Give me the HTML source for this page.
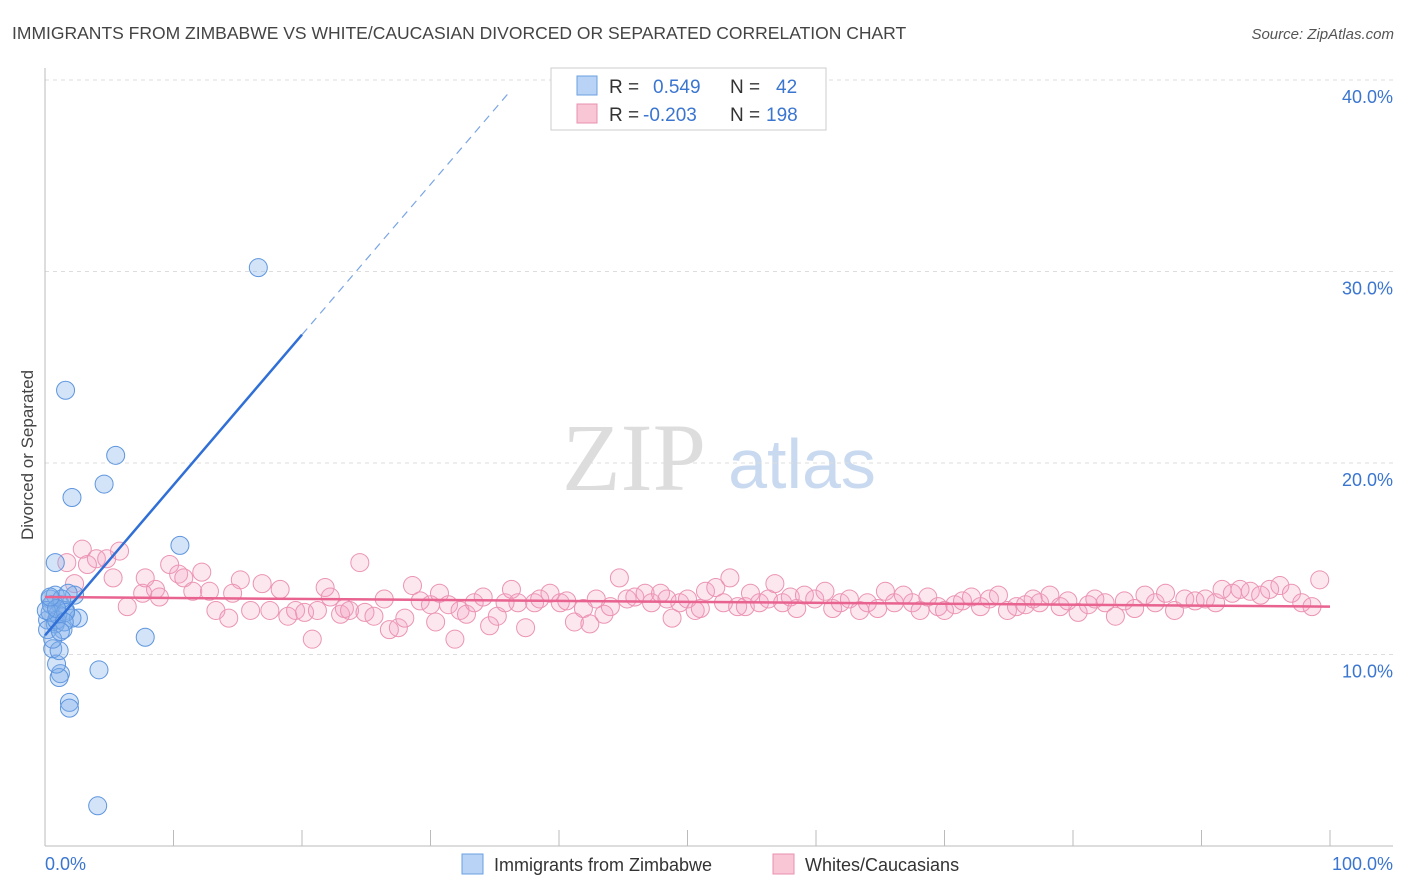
<!DOCTYPE html>
<html><head><meta charset="utf-8">
<style>
body{margin:0;background:#fff;font-family:"Liberation Sans",sans-serif;}
svg{display:block}
</style></head>
<body>
<svg id="chart" width="1406" height="892" viewBox="0 0 1406 892" xmlns="http://www.w3.org/2000/svg">
<text x="12" y="39" font-size="17.5" fill="#444">IMMIGRANTS FROM ZIMBABWE VS WHITE/CAUCASIAN DIVORCED OR SEPARATED CORRELATION CHART</text>
<text x="1394" y="39" font-size="15" fill="#555" font-style="italic" text-anchor="end">Source: ZipAtlas.com</text>
<g>
<text x="634" y="490" font-family="Liberation Serif,serif" font-size="96" fill="#ddd" text-anchor="middle">ZIP</text>
<text x="802" y="488" font-size="70" fill="#c9daf0" text-anchor="middle">atlas</text>
</g>
<g id="grid"></g>
<g id="axes"></g>
<g id="marks"></g>
<text transform="translate(33,455) rotate(-90)" font-size="17" fill="#444" text-anchor="middle">Divorced or Separated</text>
<text x="45" y="870" font-size="18" fill="#3a75d0">0.0%</text>
<text x="1393" y="870" font-size="18" fill="#3a75d0" text-anchor="end">100.0%</text>
<g>
<rect x="551" y="68" width="275" height="62" fill="#fff" stroke="#ccc"/>
<rect x="577" y="76" width="20" height="19" fill="#b8d3f5" stroke="#6a9fe0"/>
<rect x="577" y="104" width="20" height="19" fill="#f9c6d6" stroke="#e890b0"/>
<text x="609" y="93" font-size="19" fill="#333">R =</text>
<text x="653" y="93" font-size="19" fill="#3a75d0">0.549</text>
<text x="730" y="93" font-size="19" fill="#333">N =</text>
<text x="776" y="93" font-size="19" fill="#3a75d0">42</text>
<text x="609" y="121" font-size="19" fill="#333">R =</text>
<text x="643" y="121" font-size="19" fill="#3a75d0">-0.203</text>
<text x="730" y="121" font-size="19" fill="#333">N =</text>
<text x="766" y="121" font-size="19" fill="#3a75d0">198</text>
</g>
<g>
<rect x="462" y="854" width="21" height="20" fill="#b8d3f5" stroke="#6a9fe0"/>
<text x="494" y="871" font-size="18" fill="#333">Immigrants from Zimbabwe</text>
<rect x="773" y="854" width="21" height="20" fill="#f9c6d6" stroke="#e890b0"/>
<text x="805" y="871" font-size="18" fill="#333">Whites/Caucasians</text>
</g>
</svg>
<script>
const yTicks=[10,20,30,40];
const yTickLabels=["10.0%","20.0%","30.0%","40.0%"];
const xTicks=[0,10,20,30,40,50,60,70,80,90,100];
const blueX=[16.6,1.6,5.5,2.1,4.6,10.5,0.8,7.8,4.2,4.1,1.9,1.9,1.2,1.1,0.9,0.6,1.1,0.2,0.4,0.8,1.2,1.6,2.3,1.8,2.6,2.1,1.4,0.8,0.4,1.0,0.5,1.3,0.2,0.6,0.9,1.6,0.1,0.9,1.5,0.4,1.2];
const blueY=[30.2,23.8,20.4,18.2,18.9,15.7,14.8,10.9,9.2,2.1,7.5,7.2,9.0,8.8,9.5,10.3,10.2,11.8,12.9,13.1,12.6,12.3,13.1,13.2,11.9,11.9,11.3,11.6,12.2,12.1,12.6,12.9,11.3,10.8,11.8,12.2,12.3,12.4,11.7,13.0,11.2];
const pinkPoints=[[1.7,14.8],[2.9,15.5],[4.0,15.0],[4.8,15.0],[5.8,15.4],[3.3,14.7],[2.3,13.7],[5.3,14.0],[6.4,12.5],[7.6,13.2],[7.8,14.0],[8.6,13.4],[8.9,13.0],[9.7,14.7],[10.4,14.2],[10.8,14.0],[11.5,13.3],[12.2,14.3],[12.8,13.3],[13.3,12.3],[14.3,11.9],[15.2,13.9],[14.6,13.2],[16.0,12.3],[16.9,13.7],[17.5,12.3],[18.3,13.4],[18.9,12.0],[19.5,12.3],[20.2,12.2],[20.8,10.8],[21.2,12.3],[21.8,13.5],[22.2,13.0],[23.0,12.1],[23.3,12.4],[23.7,12.3],[24.5,14.8],[24.9,12.2],[25.6,12.0],[26.4,12.9],[26.8,11.3],[27.5,11.4],[28.0,11.9],[28.6,13.6],[29.2,12.8],[30.0,12.6],[30.4,11.7],[30.7,13.2],[31.4,12.6],[31.9,10.8],[32.3,12.3],[32.8,12.1],[33.4,12.7],[34.1,13.0],[34.6,11.5],[35.2,12.0],[35.8,12.7],[36.3,13.4],[36.8,12.7],[37.4,11.4],[38.1,12.7],[38.5,12.9],[39.3,13.2],[40.1,12.7],[40.6,12.8],[41.2,11.7],[41.9,12.4],[42.4,11.6],[42.9,12.9],[43.5,12.1],[44.0,12.5],[44.7,14.0],[45.3,12.9],[45.9,13.0],[46.7,13.2],[47.2,12.7],[47.9,13.2],[48.4,12.9],[48.8,11.9],[49.4,12.7],[50.0,12.9],[50.6,12.3],[51.0,12.4],[51.4,13.3],[52.2,13.5],[52.8,12.7],[53.3,14.0],[53.9,12.5],[54.5,12.5],[54.9,13.2],[55.6,12.7],[56.3,12.9],[56.8,13.7],[57.4,12.7],[58.0,13.0],[58.5,12.4],[59.1,13.1],[59.9,12.9],[60.7,13.3],[61.3,12.4],[61.9,12.7],[62.6,12.9],[63.4,12.3],[64.0,12.7],[64.8,12.4],[65.4,13.3],[66.1,12.7],[66.8,13.1],[67.5,12.7],[68.1,12.3],[68.7,13.0],[69.5,12.5],[70.0,12.3],[70.8,12.6],[71.4,12.8],[72.1,13.0],[72.8,12.5],[73.5,12.9],[74.2,13.1],[74.9,12.3],[75.6,12.5],[76.3,12.6],[76.9,12.9],[77.4,12.7],[78.2,13.1],[79.0,12.5],[79.6,12.8],[80.4,12.2],[81.2,12.6],[81.7,12.9],[82.5,12.7],[83.3,12.0],[84.0,12.8],[84.8,12.4],[85.6,13.1],[86.4,12.7],[87.2,13.2],[87.9,12.3],[88.7,12.9],[89.5,12.8],[90.3,12.9],[91.1,12.7],[91.6,13.4],[92.4,13.2],[93.0,13.4],[93.8,13.3],[94.6,13.1],[95.3,13.4],[96.1,13.6],[97.0,13.2],[97.8,12.7],[98.6,12.5],[99.2,13.9]];
const blueTrend=[11.0,0.785]; // intercept, slope
const pinkTrend=[13.0,-0.005];

const NS="http://www.w3.org/2000/svg";
const X=v=>45+v*12.85;
const Y=v=>846-v*19.15;
function mk(tag,attrs,parent){const e=document.createElementNS(NS,tag);for(const k in attrs)e.setAttribute(k,attrs[k]);parent.appendChild(e);return e;}
const grid=document.getElementById('grid'),axes=document.getElementById('axes'),marks=document.getElementById('marks');
yTicks.forEach((t,i)=>{
  const l=mk('line',{x1:45,x2:1393,y1:Y(t),y2:Y(t),stroke:'#ddd','stroke-dasharray':'4,4'},grid);
  
  
  const tx=mk('text',{x:1393,y:Y(t)+23,'font-size':18,fill:'#3a75d0','text-anchor':'end'},grid);
  tx.textContent=yTickLabels[i];
  
  
});
const ya=mk('line',{x1:45,x2:45,y1:68,y2:846,stroke:'#bbb'},axes);


const xa=mk('line',{x1:45,x2:1393,y1:846,y2:846,stroke:'#bbb'},axes);


xTicks.forEach(t=>{
  const l=mk('line',{x1:X(t),x2:X(t),y1:830,y2:846,stroke:'#bbb'},axes);
  
  
});
pinkPoints.forEach(p=>{
  const c=mk('circle',{cx:X(p[0]),cy:Y(p[1]),r:9,fill:'rgba(244,160,190,0.25)',stroke:'#eb94b3','stroke-width':1},marks);
  
  
});
blueX.forEach((x,i)=>{
  const c=mk('circle',{cx:X(x),cy:Y(blueY[i]),r:9,fill:'rgba(130,175,235,0.35)',stroke:'#5d95de','stroke-width':1},marks);
  
  
});
const pl=mk('line',{x1:X(0),y1:Y(pinkTrend[0]),x2:X(100),y2:Y(pinkTrend[0]+pinkTrend[1]*100),stroke:'#e8638f','stroke-width':2.5},marks);


const bl=mk('line',{x1:X(0),y1:Y(blueTrend[0]),x2:X(20),y2:Y(blueTrend[0]+blueTrend[1]*20),stroke:'#2f6fd6','stroke-width':2.5},marks);


const bd=mk('line',{x1:X(20),y1:Y(blueTrend[0]+blueTrend[1]*20),x2:X(36.2),y2:Y(blueTrend[0]+blueTrend[1]*36.2),stroke:'#7aa5e5','stroke-width':1.2,'stroke-dasharray':'8,6'},marks);


</script>
</body></html>
